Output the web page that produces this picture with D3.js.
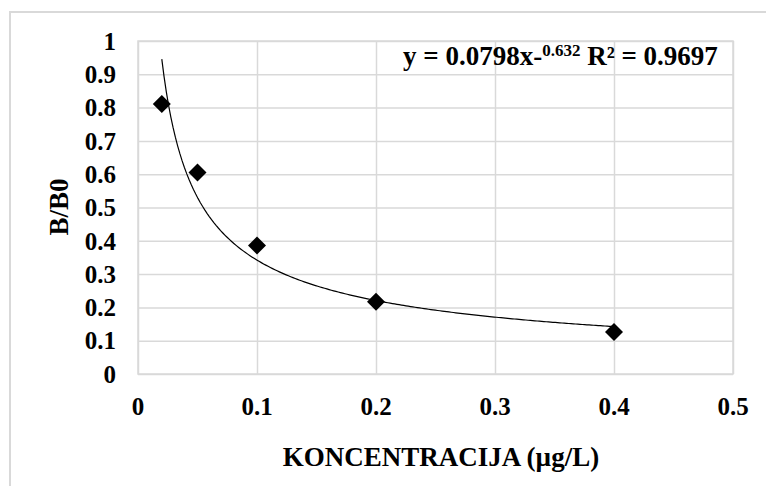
<!DOCTYPE html>
<html>
<head>
<meta charset="utf-8">
<script src="https://cdn.jsdelivr.net/npm/d3@7"></script>
<style>
  body { margin: 0; background: #fff; }
  svg { display: block; }
</style>
</head>
<body>
<script>
// data
var concentrations = [0.02, 0.05, 0.1, 0.2, 0.4];
var ratios = [0.811, 0.605, 0.386, 0.217, 0.126];
var xTicks = [0, 0.1, 0.2, 0.3, 0.4, 0.5];
var yTicks = [0, 0.1, 0.2, 0.3, 0.4, 0.5, 0.6, 0.7, 0.8, 0.9, 1];
var trendCoef = 0.0798, trendExp = -0.632;
var trendRange = [0.02, 0.4];

var width = 766, height = 486;
var margin = {left: 138, top: 41, right: 33, bottom: 112};
var serif = "'Liberation Serif', 'Times New Roman', Times, serif";

var svg = d3.select("body").append("svg")
    .attr("width", width)
    .attr("height", height)
    .attr("font-family", serif)
    .attr("font-weight", "bold");

// outer chart frame (only left and top visible)
svg.append("path")
    .attr("d", "M10," + height + "V12H" + width)
    .attr("fill", "none")
    .attr("stroke", "#d9d9d9")
    .attr("stroke-width", 2);

var x = d3.scaleLinear()
    .domain([0, 0.5])
    .range([margin.left, width - margin.right]);

var y = d3.scaleLinear()
    .domain([0, 1])
    .range([height - margin.bottom, margin.top]);

var plotW = x.range()[1] - x.range()[0],
    plotH = y.range()[0] - y.range()[1];

// gridlines
svg.append("g")
    .attr("transform", "translate(0," + y(0) + ")")
    .call(d3.axisBottom(x).tickValues(xTicks).tickSize(-plotH).tickFormat(""))
    .call(function (g) {
        g.select(".domain").remove();
        g.selectAll("line").attr("stroke", "#d9d9d9").attr("stroke-width", 1.5);
    });

svg.append("g")
    .attr("transform", "translate(" + x(0) + ",0)")
    .call(d3.axisLeft(y).tickValues(yTicks).tickSize(-plotW).tickFormat(""))
    .call(function (g) {
        g.select(".domain").remove();
        g.selectAll("line").attr("stroke", "#d9d9d9").attr("stroke-width", 1.5);
    });

svg.append("rect")
    .attr("x", x(0)).attr("y", y(1))
    .attr("width", plotW).attr("height", plotH)
    .attr("fill", "none")
    .attr("stroke", "#d9d9d9")
    .attr("stroke-width", 1.5);

// tick labels
svg.append("g")
    .selectAll("text")
    .data(yTicks)
    .enter().append("text")
    .attr("x", 116)
    .attr("y", function (d) { return y(d); })
    .attr("dy", "0.35em")
    .attr("text-anchor", "end")
    .attr("font-family", serif)
    .attr("font-size", 25)
    .text(function (d) { return d3.format("")(d); });

svg.append("g")
    .selectAll("text")
    .data(xTicks)
    .enter().append("text")
    .attr("x", function (d) { return x(d); })
    .attr("y", 415)
    .attr("text-anchor", "middle")
    .attr("font-family", serif)
    .attr("font-size", 25)
    .text(function (d) { return d3.format("")(d); });

// axis titles
svg.append("text")
    .attr("x", 441)
    .attr("y", 466)
    .attr("text-anchor", "middle")
    .attr("font-family", serif)
    .attr("font-size", 27)
    .text("KONCENTRACIJA (µg/L)");

svg.append("text")
    .attr("transform", "translate(68,207) rotate(-90)")
    .attr("text-anchor", "middle")
    .attr("font-family", serif)
    .attr("font-size", 27)
    .text("B/B0");

// power trendline
var trend = d3.range(0, 201).map(function (i) {
    var cx = trendRange[0] + (trendRange[1] - trendRange[0]) * i / 200;
    return [cx, trendCoef * Math.pow(cx, trendExp)];
});

svg.append("path")
    .datum(trend)
    .attr("fill", "none")
    .attr("stroke", "#000")
    .attr("stroke-width", 1.2)
    .attr("d", d3.line()
        .x(function (d) { return x(d[0]); })
        .y(function (d) { return y(d[1]); }));

// diamond markers
svg.append("g")
    .selectAll("path")
    .data(concentrations)
    .enter().append("path")
    .attr("transform", function (d, i) {
        return "translate(" + x(d) + "," + y(ratios[i]) + ")";
    })
    .attr("d", "M0,-9L9,0L0,9L-9,0Z")
    .attr("fill", "#000");

// equation label
var eq = svg.append("text")
    .attr("x", 403)
    .attr("y", 65)
    .attr("font-family", serif)
    .attr("font-size", 27);
eq.append("tspan").text("y = 0.0798x-");
eq.append("tspan").attr("dy", -9).attr("font-size", 17).text("0.632");
eq.append("tspan").attr("dy", 9).text(" R² = 0.9697");
</script>
</body>
</html>
